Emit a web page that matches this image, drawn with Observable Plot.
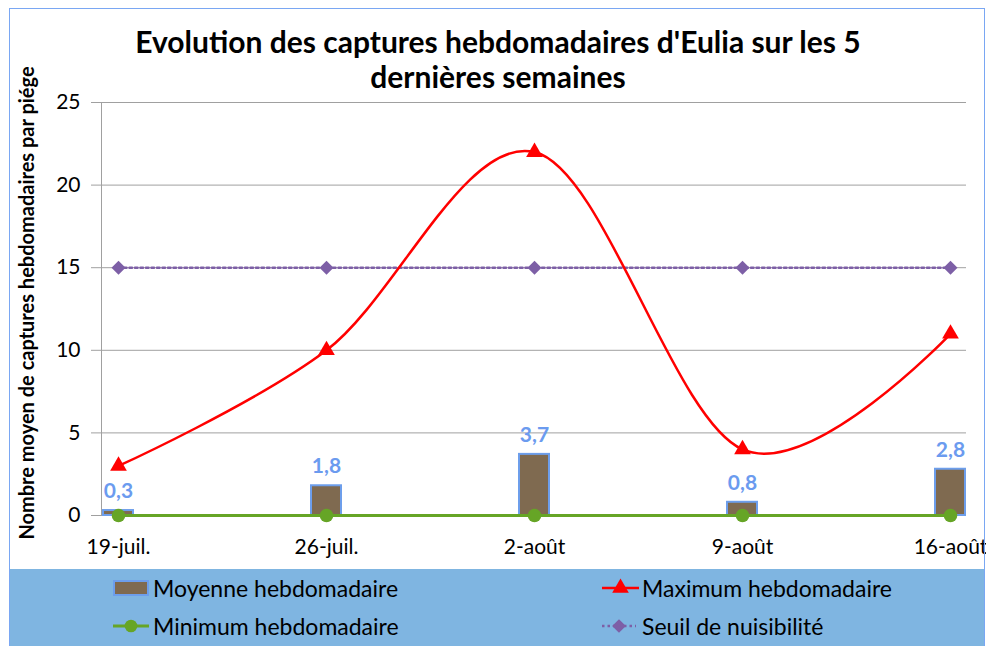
<!DOCTYPE html>
<html>
<head>
<meta charset="utf-8">
<script src="https://cdn.jsdelivr.net/npm/d3@7"></script>
<script src="https://cdn.jsdelivr.net/npm/@observablehq/plot@0.6"></script>
<style>
  body { margin: 0; background: #fff; font-family: Lato, "Open Sans", sans-serif; }
  #chart { position: relative; width: 996px; height: 646px; overflow: hidden; background: #fff; }
  #border { position: absolute; left: 9px; top: 8px; width: 976px; height: 660px; border: 1.5px solid #7aa7f3; box-sizing: border-box; pointer-events: none; z-index: 3; }
  #title { position: absolute; left: 0; top: 0; width: 996px; height: 95px; z-index: 2; pointer-events: none; }
  .tline { position: absolute; left: 0; width: 996px; text-align: center; font-weight: bold; font-size: 30px; color: #000; line-height: 36px; }
  .tline span { display: inline-block; white-space: nowrap; }
  #plot { position: absolute; left: 0; top: 0; }
  #legend { position: absolute; left: 10px; top: 569px; width: 975px; height: 77px; background: #7fb5e1; }
  .item { position: absolute; display: flex; align-items: center; font-size: 23px; color: #000; white-space: nowrap; }
  .item span { display: inline-block; }
</style>
</head>
<body>
<div id="chart">
  <div id="plot"></div>
  <div id="title">
    <div class="tline" style="top:23px"><span id="t1"></span></div>
    <div class="tline" style="top:58px"><span id="t2"></span></div>
  </div>
  <div id="legend"></div>
  <div id="border"></div>
</div>
<script>
const titleLines = ["Evolution des captures hebdomadaires d'Eulia sur les 5", "dernières semaines"];
const yLabel = "Nombre moyen de captures hebdomadaires par piége";
const weeks = ["19-juil.", "26-juil.", "2-août", "9-août", "16-août"];
const moyenne = [0.3, 1.8, 3.7, 0.8, 2.8];
const maximum = [3, 10, 22, 4, 11];
const minimum = [0, 0, 0, 0, 0];
const seuil = [15, 15, 15, 15, 15];
const yTicks = [0, 5, 10, 15, 20, 25];
const seriesNames = ["Moyenne hebdomadaire", "Maximum hebdomadaire", "Minimum hebdomadaire", "Seuil de nuisibilité"];

const colors = {
  barFill: "#7f6a50", barStroke: "#6d9eeb", label: "#6b9bef",
  max: "#ff0000", min: "#66a526", seuil: "#7d5fa6", grid: "#a0a0a0"
};

document.getElementById("t1").textContent = titleLines[0];
document.getElementById("t2").textContent = titleLines[1];

const rows = weeks.map((w, i) => ({week: w, moyenne: moyenne[i], maximum: maximum[i], minimum: minimum[i], seuil: seuil[i]}));
const fmt = v => v.toFixed(1).replace(".", ",");

const leftAxisLine = (index, scales, values, dims) => {
  const ns = "http://www.w3.org/2000/svg";
  const line = document.createElementNS(ns, "line");
  const x = dims.marginLeft + 0.5;
  line.setAttribute("x1", x); line.setAttribute("x2", x);
  line.setAttribute("y1", scales.y(d3.max(yTicks)));
  line.setAttribute("y2", scales.y(0));
  line.setAttribute("stroke", colors.grid);
  line.setAttribute("stroke-width", 1);
  return line;
};

const plot = Plot.plot({
  width: 986,
  height: 569,
  marginTop: 102,
  marginBottom: 54,
  marginLeft: 101,
  marginRight: 20,
  style: {fontFamily: "Lato, 'Open Sans', sans-serif", fontSize: "21px", color: "#000", background: "transparent", overflow: "hidden"},
  x: {type: "band", domain: weeks, paddingInner: 0.856, paddingOuter: 0, label: null},
  y: {domain: [0, 25], ticks: yTicks, label: null},
  marks: [
    Plot.gridY(yTicks, {stroke: colors.grid, strokeOpacity: 1, strokeWidth: 1}),
    Plot.axisY(yTicks, {tickSize: 10, tickPadding: 11, stroke: colors.grid, fontSize: 21, fill: "#000"}),
    leftAxisLine,
    Plot.axisX({tickSize: 0, tickPadding: 24, fontSize: 21, fill: "#000", label: null}),
    Plot.barY(rows, {x: "week", y: "moyenne", fill: colors.barFill, stroke: colors.barStroke, strokeWidth: 2}),
    Plot.text(rows, {x: "week", y: "moyenne", text: d => fmt(d.moyenne), dy: -19, fill: colors.label, fontWeight: "bold", fontSize: 21}),
    Plot.line(rows, {x: "week", y: "seuil", stroke: colors.seuil, strokeWidth: 2.5, strokeDasharray: "2.5,3"}),
    Plot.dot(rows, {x: "week", y: "seuil", symbol: "diamond2", r: 6.3, fill: colors.seuil, stroke: "none"}),
    Plot.line(rows, {x: "week", y: "maximum", stroke: colors.max, strokeWidth: 2.5, curve: "cardinal"}),
    Plot.dot(rows, {x: "week", y: "maximum", symbol: "triangle", r: 6.2, fill: colors.max, stroke: "none"}),
    Plot.line(rows, {x: "week", y: "minimum", stroke: colors.min, strokeWidth: 3}),
    Plot.dot(rows, {x: "week", y: "minimum", symbol: "circle", r: 6.8, fill: colors.min, stroke: "none"}),
    Plot.text([yLabel], {frameAnchor: "left", textAnchor: "middle", rotate: -90, dx: -74, dy: -6, fontWeight: "bold", fontSize: 20, fill: "#000"})
  ]
});
document.getElementById("plot").appendChild(plot);

// Legend
const legend = document.getElementById("legend");
const legendPos = [
  {x: 103, y: 19}, {x: 592, y: 19}, {x: 103, y: 57}, {x: 592, y: 57}
];
function swatch(k) {
  const svg = d3.create("svg").attr("width", 38).attr("height", 20).style("overflow", "visible");
  if (k === 0) {
    svg.append("rect").attr("x", 1).attr("y", 3).attr("width", 34).attr("height", 14)
      .attr("fill", colors.barFill).attr("stroke", colors.barStroke).attr("stroke-width", 2);
  } else if (k === 1) {
    svg.append("line").attr("x1", 0).attr("x2", 37).attr("y1", 10).attr("y2", 10).attr("stroke", colors.max).attr("stroke-width", 2.5);
    svg.append("path").attr("transform", "translate(18.5,10)").attr("d", d3.symbol(d3.symbolTriangle, 120)()).attr("fill", colors.max);
  } else if (k === 2) {
    svg.append("line").attr("x1", 0).attr("x2", 36).attr("y1", 10).attr("y2", 10).attr("stroke", colors.min).attr("stroke-width", 3);
    svg.append("circle").attr("cx", 18).attr("cy", 10).attr("r", 6.3).attr("fill", colors.min);
  } else {
    svg.append("line").attr("x1", 0).attr("x2", 34).attr("y1", 10).attr("y2", 10).attr("stroke", colors.seuil).attr("stroke-width", 2.5).attr("stroke-dasharray", "2.5,3");
    svg.append("path").attr("transform", "translate(17,10)").attr("d", d3.symbol(d3.symbolDiamond2, 120)()).attr("fill", colors.seuil);
  }
  return svg.node();
}
seriesNames.forEach((name, k) => {
  const div = document.createElement("div");
  div.className = "item";
  div.style.left = legendPos[k].x + "px";
  div.style.top = (legendPos[k].y - 13) + "px";
  div.style.height = "26px";
  div.appendChild(swatch(k));
  const s = document.createElement("span");
  s.textContent = name;
  s.style.marginLeft = "2px";
  div.appendChild(s);
  legend.appendChild(div);
});
</script>
</body>
</html>
